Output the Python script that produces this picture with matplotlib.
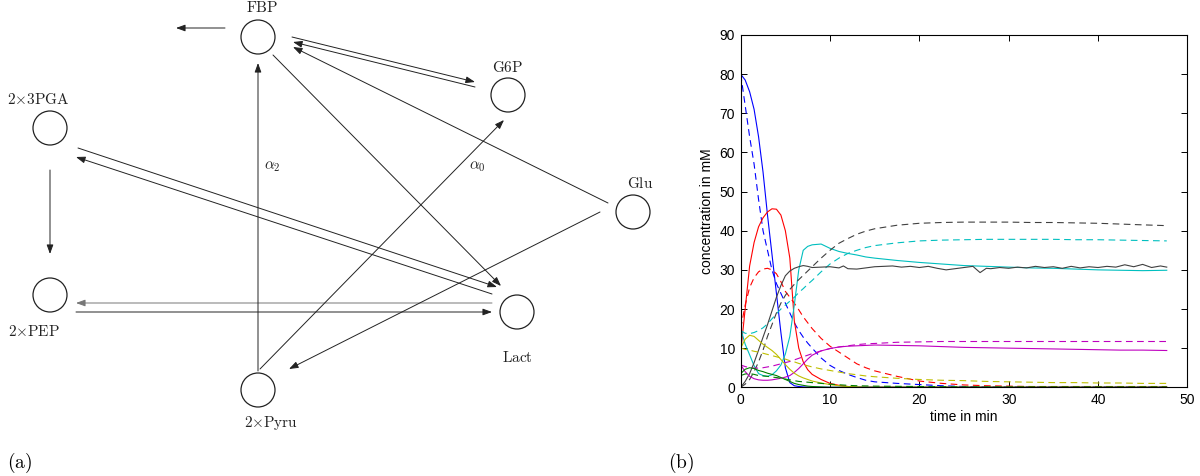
import matplotlib.pyplot as plt

plt.rcParams['mathtext.fontset'] = 'cm'

# ---- panel (a): reaction network (pixel coordinates of the figure) ----
node_names = [r'$\mathrm{FBP}$', r'$\mathrm{G6P}$', r'$2{\times}\mathrm{3PGA}$', r'$\mathrm{Glu}$',
              r'$2{\times}\mathrm{PEP}$', r'$\mathrm{Lact}$', r'$2{\times}\mathrm{Pyru}$']
node_x = [258, 508, 50, 633, 50, 517, 258]
node_y = [37, 95, 128, 212, 295, 312, 390]
label_x = [262, 508, 38, 640, 34, 517, 271]
label_y = [8, 68, 100, 183, 332, 357, 423]

# arrows: start x, start y, end x, end y
edge_x0 = [225, 292, 475, 608, 273, 78, 492, 50, 492, 76, 258, 260, 600]
edge_y0 = [28, 37, 87, 203, 55, 148, 294, 170, 303, 312, 371, 369, 212]
edge_x1 = [176, 475, 293, 293, 501, 497, 76, 50, 76, 492, 258, 504, 289]
edge_y1 = [28, 82, 42, 47, 286, 287, 157, 254, 303, 312, 63, 120, 369]
edge_col = ['#222222'] * 8 + ['#777777'] + ['#222222'] * 4

rate_labels = [r'$\alpha_2$', r'$\alpha_0$']
rate_x = [272, 477]
rate_y = [166, 166]

# ---- panel (b): concentration time courses ----
t = [0, 0.5, 1, 1.5, 2, 2.5, 3, 3.5, 4, 4.5, 5, 5.5, 6, 6.5, 7, 7.5, 8, 9, 10, 11, 12,
     13, 14, 15, 17.5, 20, 22.5, 25, 27.5, 30, 32.5, 35, 37.5, 40, 42.5, 45, 47.7]

blue_sim = [80, 78.5, 75.5, 71, 64, 55, 44, 34, 24, 14, 5, 1.2, 0.4, 0.2, 0.1, 0.05, 0,
            0, 0, 0, 0, 0, 0, 0, 0, 0, 0, 0, 0, 0, 0, 0, 0, 0, 0, 0, 0]
blue_exp = [80, 72, 64, 57, 48, 40, 35, 30, 26.5, 24, 21.5, 19, 16.5, 14.5, 12.8, 11.3, 10,
            7.5, 5.6, 4.3, 3.3, 2.5, 1.8, 1.4, 1, 0.7, 0.4, 0.2, 0.1, 0.1, 0.1, 0.1, 0.1,
            0.1, 0.1, 0.1, 0.1]
red_sim = [9, 20, 31, 37, 41, 43.3, 44.8, 45.6, 45.5, 44, 40, 33, 17, 10, 6.5, 4.5, 3.3,
           2, 1, 0.5, 0.2, 0, 0, 0, 0, 0, 0, 0, 0, 0, 0, 0, 0, 0, 0, 0, 0]
red_exp = [15, 21, 25.5, 28, 29.5, 30.2, 30.4, 30, 29, 27, 24.5, 23, 21.5, 19.8, 18, 16.5,
           15, 12.5, 10.5, 9, 7.5, 6, 5, 4.2, 2.8, 1.6, 1, 0.6, 0.4, 0.3, 0.2, 0.2, 0.2,
           0.2, 0.2, 0.2, 0.2]
cyan_sim = [15, 11, 8.3, 5.5, 3.5, 3, 2.8, 3.2, 4.2, 5.7, 8.5, 13, 21, 30, 35, 36, 36.4,
            36.6, 35.5, 34.7, 34.2, 33.8, 33.3, 33, 32.4, 31.9, 31.5, 31.1, 30.9, 30.7,
            30.5, 30.4, 30.2, 30, 29.9, 29.8, 29.9]
cyan_exp = [14.5, 13.8, 13.7, 14, 14.5, 15.2, 16.2, 17.5, 18.8, 20, 21, 22, 23, 24.2, 25.2,
            26.3, 27.3, 29.5, 31.5, 33, 34.2, 35, 35.7, 36.2, 36.9, 37.4, 37.6, 37.7, 37.8,
            37.8, 37.8, 37.8, 37.7, 37.7, 37.6, 37.5, 37.4]
black_exp = [0, 0.8, 2, 4, 6.5, 9.5, 13, 16, 19, 21.5, 23.5, 25, 26.3, 27.5, 28.6, 29.7,
             30.8, 33, 35, 36.8, 38, 39.1, 39.9, 40.5, 41.4, 41.9, 42.1, 42.2, 42.2, 42.2,
             42.1, 42.1, 42, 41.9, 41.7, 41.5, 41.3]
magenta_sim = [5.7, 4, 2.8, 2.2, 1.9, 1.8, 1.8, 1.9, 2.1, 2.3, 2.6, 3, 3.8, 4.8, 6, 7.2,
               8.2, 9.3, 9.9, 10.3, 10.5, 10.6, 10.7, 10.8, 10.7, 10.6, 10.4, 10.2, 10.1,
               10, 9.9, 9.8, 9.7, 9.6, 9.5, 9.5, 9.4]
magenta_exp = [5.7, 5.3, 5, 4.9, 4.9, 5, 5.2, 5.4, 5.7, 6, 6.3, 6.6, 7, 7.4, 7.8, 8.2, 8.6,
               9.3, 9.9, 10.3, 10.6, 10.9, 11.1, 11.2, 11.5, 11.6, 11.7, 11.7, 11.7, 11.7,
               11.7, 11.7, 11.7, 11.7, 11.7, 11.7, 11.7]
yellow_sim = [10, 12.3, 13.3, 13, 12, 11, 10.2, 9.4, 8.4, 7.1, 5.8, 4.6, 3.6, 2.9, 2.4, 2,
              1.6, 1.1, 0.7, 0.4, 0.2, 0.1, 0, 0, 0, 0, 0, 0, 0, 0, 0, 0, 0, 0, 0, 0, 0]
yellow_exp = [10, 9.7, 9.5, 9.2, 9, 8.7, 8.4, 8.1, 7.8, 7.5, 7.2, 6.8, 6.5, 6.1, 5.8, 5.5,
              5.2, 4.7, 4.3, 3.9, 3.5, 3.2, 2.9, 2.7, 2.3, 2, 1.8, 1.7, 1.5, 1.4, 1.3, 1.2,
              1.2, 1.1, 1.1, 1, 1]
green_sim = [3.5, 4.6, 5, 4.8, 4.3, 4, 3.6, 3.3, 3, 2.5, 2, 1.5, 1, 0.7, 0.5, 0.3, 0.2, 0.1,
             0, 0, 0, 0, 0, 0, 0, 0, 0, 0, 0, 0, 0, 0, 0, 0, 0, 0, 0]
green_exp = [3, 3.4, 3.5, 3.3, 3, 2.9, 2.8, 2.6, 2.5, 2.3, 2.1, 1.9, 1.7, 1.5, 1.4, 1.3,
             1.2, 1, 0.8, 0.65, 0.5, 0.4, 0.35, 0.3, 0.25, 0.2, 0.15, 0.1, 0.1, 0.1, 0.1,
             0.1, 0.1, 0.1, 0.1, 0.1, 0.1]

# noisy black curve has its own time grid
t_black = [0, 0.5, 1, 1.5, 2, 2.5, 3, 3.5, 4, 4.5, 5, 5.5, 6, 6.5, 7, 7.5, 8, 9, 10, 11,
           11.5, 12, 13, 14, 15, 16, 17, 18, 19, 20, 21, 22, 23, 24, 25, 26, 26.8, 27.5,
           28, 29, 30, 31, 32, 33, 34, 35, 36, 37, 38, 39, 40, 41, 42, 43, 44, 45, 46, 47,
           47.7]
black_sim = [0, 1.5, 3.5, 6.3, 9.5, 12.8, 16, 19.5, 23, 26, 28.5, 29.7, 30.4, 30.8, 31.1,
             30.9, 30.6, 30.7, 30.8, 30.5, 31, 30.3, 30.2, 30.5, 30.8, 30.9, 31, 30.7, 30.9,
             30.6, 30.9, 30.4, 30, 30.3, 30.6, 30.9, 29.3, 30.4, 30.3, 30.6, 30.4, 30.7,
             30.5, 30.9, 30.6, 30.8, 30.4, 30.9, 30.5, 30.8, 30.6, 30.9, 30.7, 31.3, 30.8,
             31.4, 30.6, 31, 30.7]

fig = plt.figure(figsize=(12, 4.76), dpi=100)

ax0 = fig.add_axes([0, 0, 1, 1])
ax0.set_xlim(0, 1200)
ax0.set_ylim(476, 0)
ax0.axis('off')

for x, y in zip(node_x, node_y):
    ax0.add_patch(plt.Circle((x, y), 17, fill=False, lw=0.9, ec='#222222'))
for name, x, y in zip(node_names, label_x, label_y):
    ax0.text(x, y, name, fontsize=11, ha='center', va='center', color='#222222')
for x0, y0, x1, y1, c in zip(edge_x0, edge_y0, edge_x1, edge_y1, edge_col):
    ax0.annotate('', xy=(x1, y1), xytext=(x0, y0),
                 arrowprops=dict(arrowstyle='-|>,head_length=0.55,head_width=0.2',
                                 lw=0.7, color=c, shrinkA=0, shrinkB=0))
for s, x, y in zip(rate_labels, rate_x, rate_y):
    ax0.text(x, y, s, fontsize=11, ha='center', va='center', color='#222222')
ax0.text(20, 463, r'$\mathrm{(a)}$', fontsize=14, ha='center', va='center')
ax0.text(681, 463, r'$\mathrm{(b)}$', fontsize=14, ha='center', va='center')

ax = fig.add_axes([740.7 / 1200, 1 - 387.3 / 476, 446.6 / 1200, 352.3 / 476])
dash = (0, (6, 4))
ax.plot(t, blue_sim, color='#0000ff', lw=0.8)
ax.plot(t, blue_exp, color='#0000ff', lw=0.8, linestyle=dash)
ax.plot(t, red_sim, color='#ff0000', lw=0.8)
ax.plot(t, red_exp, color='#ff0000', lw=0.8, linestyle=dash)
ax.plot(t, cyan_sim, color='#00bfbf', lw=0.8)
ax.plot(t, cyan_exp, color='#00bfbf', lw=0.8, linestyle=dash)
ax.plot(t_black, black_sim, color='#404040', lw=0.8)
ax.plot(t, black_exp, color='#404040', lw=0.8, linestyle=dash)
ax.plot(t, magenta_sim, color='#bf00bf', lw=0.8)
ax.plot(t, magenta_exp, color='#bf00bf', lw=0.8, linestyle=dash)
ax.plot(t, yellow_sim, color='#bfbf00', lw=0.8)
ax.plot(t, yellow_exp, color='#bfbf00', lw=0.8, linestyle=dash)
ax.plot(t, green_sim, color='#008000', lw=0.8)
ax.plot(t, green_exp, color='#008000', lw=0.8, linestyle=dash)

ax.set_xlim(0, 50)
ax.set_ylim(0, 90)
ax.set_xticks(range(0, 51, 10))
ax.set_yticks(range(0, 91, 10))
ax.tick_params(direction='in', top=True, right=True, length=4, width=0.7,
               labelsize=10, pad=4)
for lab in ax.get_xticklabels() + ax.get_yticklabels():
    lab.set_family('Liberation Sans')
for sp in ax.spines.values():
    sp.set_linewidth(0.8)
ax.set_xlabel('time in min', fontsize=10, family='Liberation Sans', labelpad=2)
ax.set_ylabel('concentration in mM', fontsize=10, family='Liberation Sans', labelpad=4)

fig.savefig('out.png', dpi=100)
